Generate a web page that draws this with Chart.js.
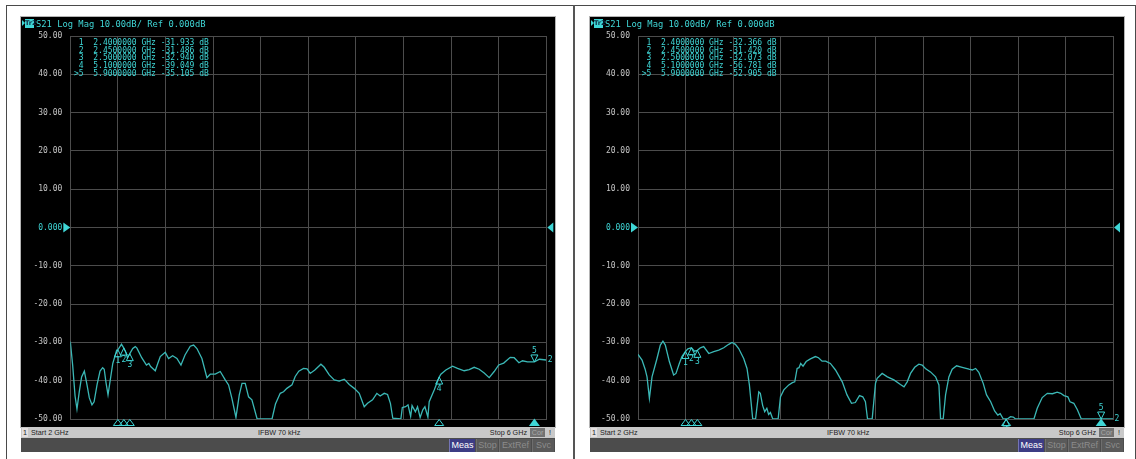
<!DOCTYPE html>
<html><head><meta charset="utf-8">
<script src="https://cdn.jsdelivr.net/npm/chart.js@4.4.1/dist/chart.umd.min.js"></script>
<style>
html,body{margin:0;padding:0;background:#fff;}
body{width:1136px;height:459px;position:relative;overflow:hidden;font-family:"Liberation Sans",sans-serif;}
.fl{position:absolute;background:#4a4a4a;}
.panel{position:absolute;top:17px;width:534px;height:435px;}
.screen{position:absolute;left:0;top:0;width:534px;height:410px;background:#000;box-shadow:0 0 0 1px #b4b4b4;}
.screen canvas{position:absolute;left:0;top:0;}
.arrow{position:absolute;left:0.5px;top:3px;width:0;height:0;border-left:3px solid #3fd6d6;border-top:3.5px solid transparent;border-bottom:3.5px solid transparent;}
.trbox{position:absolute;left:4px;top:2px;width:9px;height:8.5px;background:#3fd6d6;color:#0c2c44;font:bold 6.5px "DejaVu Sans",sans-serif;line-height:8.5px;text-align:center;}
.hdr{position:absolute;left:15px;top:1.5px;font:8.8px "DejaVu Sans Mono",monospace;line-height:10px;color:#3fd6d6;white-space:pre;}
.mtab{position:absolute;top:22px;font:8px "DejaVu Sans Mono",monospace;line-height:7.7px;color:#3fd6d6;white-space:pre;}
.status{position:absolute;left:0;top:410px;width:534px;height:11px;background:#c9c9c9;font-size:7.2px;line-height:11px;color:#222;}
.status span{position:absolute;top:0;white-space:pre;}
.numbox{position:absolute;left:1px;top:1px;width:6px;height:9px;line-height:9px;text-align:center;background:#e4e0e0;}
.cor{position:absolute;left:509px;top:1px;width:15px;height:9px;line-height:9px;text-align:center;background:#727272;color:#a8a8a8;}
.soft{position:absolute;left:0;top:421px;width:534px;height:14px;background:#4c4c4c;}
.btn{position:absolute;top:0.5px;height:13px;line-height:13px;font-size:9px;text-align:center;background:#5a5a5a;color:#8c8c8c;border-left:1px solid #6e6e6e;box-sizing:border-box;}
.btn.on{background:#3c3c84;color:#fff;border-left:1px solid #7474b4;}
</style>
</head>
<body>
<div class="fl" style="left:6px;top:5px;width:1130px;height:1px;"></div>
<div class="fl" style="left:6px;top:5px;width:1px;height:454px;"></div>
<div class="fl" style="left:573px;top:5px;width:2px;height:454px;background:#555;"></div>
<div class="fl" style="left:1135px;top:5px;width:1px;height:454px;"></div>

<div class="panel" id="pL" style="left:21px;"></div>
<div class="panel" id="pR" style="left:590px;"></div>

<script>
// ---------------- data ----------------
const markerFreq = [2.4, 2.45, 2.5, 5.1, 5.9];
const leftMarkerDb = [-31.933, -31.486, -32.940, -39.049, -35.105];
const rightMarkerDb = [-32.366, -31.420, -32.073, -56.781, -52.905];
const activeMarker = 4;

const leftFreq = [2.000,2.020,2.040,2.056,2.075,2.095,2.118,2.140,2.160,2.182,2.200,2.225,2.250,2.272,2.285,2.300,2.317,2.335,2.357,2.390,2.400,2.430,2.450,2.465,2.480,2.500,2.525,2.546,2.560,2.600,2.640,2.660,2.675,2.714,2.735,2.756,2.798,2.826,2.860,2.896,2.930,2.964,3.008,3.036,3.064,3.106,3.148,3.176,3.218,3.260,3.302,3.330,3.358,3.392,3.420,3.443,3.470,3.498,3.526,3.570,3.695,3.724,3.764,3.792,3.820,3.863,3.890,3.920,3.960,3.990,4.016,4.055,4.106,4.134,4.176,4.218,4.260,4.302,4.344,4.386,4.428,4.470,4.498,4.540,4.576,4.604,4.638,4.666,4.690,4.710,4.778,4.790,4.818,4.838,4.860,4.872,4.900,4.918,4.940,4.962,4.980,5.005,5.016,5.058,5.100,5.114,5.156,5.212,5.254,5.310,5.352,5.394,5.436,5.478,5.520,5.562,5.600,5.642,5.697,5.730,5.770,5.800,5.842,5.900,5.942,6.000];
const leftDb = [-29.8,-36.0,-44.0,-47.4,-43.0,-39.0,-37.5,-41.0,-44.5,-46.3,-45.5,-41.0,-37.5,-36.6,-37.0,-40.5,-43.7,-40.0,-35.5,-32.0,-31.93,-30.5,-31.49,-32.5,-34.0,-32.94,-31.6,-31.1,-31.5,-34.0,-35.9,-35.5,-36.3,-37.4,-35.5,-33.7,-32.6,-34.2,-33.5,-34.2,-35.9,-33.3,-31.0,-30.7,-31.6,-34.2,-39.2,-38.3,-38.3,-37.6,-39.8,-41.1,-44.6,-49.6,-43.7,-40.7,-40.7,-44.2,-45.0,-50.0,-50.0,-46.1,-43.3,-42.9,-42.0,-41.1,-38.9,-37.5,-36.8,-36.9,-38.1,-37.2,-35.7,-36.5,-38.5,-39.8,-40.1,-39.6,-41.0,-42.0,-43.3,-46.8,-45.9,-45.0,-43.3,-44.0,-43.3,-43.6,-45.9,-49.8,-50.0,-47.0,-46.8,-46.3,-49.3,-46.5,-48.1,-46.8,-49.6,-47.6,-46.8,-49.5,-45.5,-42.4,-39.05,-38.3,-37.2,-36.2,-36.8,-37.4,-37.1,-36.5,-37.0,-38.0,-39.2,-37.6,-35.9,-35.4,-33.9,-34.0,-35.3,-34.8,-35.1,-35.1,-34.4,-34.6];

const rightFreq = [2.000,2.034,2.060,2.076,2.096,2.118,2.140,2.160,2.188,2.210,2.230,2.264,2.300,2.320,2.348,2.370,2.400,2.420,2.450,2.475,2.500,2.525,2.553,2.596,2.638,2.680,2.722,2.764,2.792,2.820,2.848,2.890,2.918,2.938,2.966,2.990,3.017,3.030,3.050,3.067,3.085,3.100,3.115,3.135,3.180,3.200,3.228,3.270,3.300,3.320,3.340,3.356,3.370,3.390,3.416,3.452,3.494,3.520,3.550,3.580,3.620,3.663,3.720,3.760,3.798,3.830,3.865,3.893,3.915,3.933,3.972,4.000,4.014,4.056,4.100,4.155,4.210,4.240,4.267,4.295,4.330,4.365,4.393,4.420,4.463,4.506,4.534,4.548,4.570,4.590,4.618,4.646,4.683,4.730,4.787,4.815,4.843,4.870,4.907,4.935,4.970,5.003,5.030,5.050,5.076,5.110,5.137,5.160,5.180,5.334,5.362,5.404,5.447,5.490,5.530,5.560,5.587,5.620,5.638,5.670,5.700,5.733,6.000];
const rightDb = [-33.1,-34.6,-37.0,-39.0,-44.6,-39.0,-36.5,-34.2,-30.7,-29.7,-30.7,-35.0,-38.5,-38.1,-35.5,-33.7,-32.37,-31.7,-31.42,-32.3,-32.07,-31.4,-31.1,-32.9,-32.4,-32.0,-31.4,-30.5,-30.0,-30.5,-31.6,-34.2,-36.8,-41.1,-50.0,-50.0,-42.9,-43.3,-46.5,-48.1,-47.2,-48.8,-48.3,-50.0,-50.0,-44.2,-42.4,-41.1,-40.5,-40.3,-36.8,-36.6,-35.5,-36.2,-35.0,-34.3,-33.7,-34.0,-34.9,-34.9,-35.5,-37.2,-40.3,-43.7,-45.9,-45.7,-43.9,-44.2,-45.5,-50.0,-50.0,-40.7,-39.4,-38.1,-39.0,-39.8,-41.0,-41.6,-40.3,-38.1,-36.5,-35.7,-35.9,-36.8,-37.7,-39.0,-41.1,-50.0,-50.0,-43.7,-39.0,-37.0,-36.1,-36.5,-37.0,-37.2,-36.8,-37.8,-40.7,-43.7,-45.5,-47.9,-49.0,-48.6,-50.0,-50.0,-49.4,-49.5,-50.0,-50.0,-47.2,-44.4,-43.3,-43.4,-43.0,-43.3,-43.9,-44.2,-45.5,-45.9,-47.6,-50.0,-50.0];

const xGridGHz = [2.0,2.4,2.8,3.2,3.6,4.0,4.4,4.8,5.2,5.6,6.0];
const yMin = -50, yMax = 50, yStep = 10;
const headerText = 'S21 Log Mag 10.00dB/ Ref 0.000dB';

// ---------------- style ----------------
const CYAN = '#3fd6d6';
const TRACE = '#3bb8b6';
const GRID = '#4c4c4c';

function tri(ctx, x1,y1,x2,y2,x3,y3, fill){
  ctx.beginPath(); ctx.moveTo(x1,y1); ctx.lineTo(x2,y2); ctx.lineTo(x3,y3); ctx.closePath();
  if (fill) ctx.fill(); else ctx.stroke();
}

// pins the plot rectangle to the instrument's graticule position
const fixArea = {
  id: 'fixArea',
  afterLayout(chart, args, o){
    const ca = chart.chartArea;
    ca.left = o.l; ca.right = o.r; ca.top = o.t; ca.bottom = o.b;
    ca.width = o.r - o.l; ca.height = o.b - o.t;
    const x = chart.scales.x, y = chart.scales.y;
    y.left = 0; y.right = o.l; y.width = o.l; y.top = o.t; y.bottom = o.b; y.height = o.b - o.t;
    x.left = o.l; x.right = o.r; x.width = o.r - o.l; x.top = o.b; x.bottom = o.b; x.height = 0;
    y.configure(); x.configure();
  }
};

const vnaMarks = {
  id: 'vnaMarks',
  afterDatasetsDraw(chart, args, o){
    const ctx = chart.ctx, a = chart.chartArea, x = chart.scales.x, y = chart.scales.y;
    ctx.save();
    ctx.strokeStyle = CYAN; ctx.fillStyle = CYAN; ctx.lineWidth = 1;
    ctx.font = '8px "DejaVu Sans Mono"';
    ctx.textAlign = 'center';
    o.freq.forEach((f,i)=>{
      const v = Math.max(o.db[i], yMin);
      const px = x.getPixelForValue(f), py = y.getPixelForValue(v);
      const act = i === o.active;
      if (act){
        tri(ctx, px,py, px-3.5,py-7, px+3.5,py-7, false);
        ctx.textBaseline = 'bottom'; ctx.fillText(String(i+1), px, py-7.5);
      } else {
        tri(ctx, px,py, px-3.5,py+7, px+3.5,py+7, false);
        ctx.textBaseline = 'top'; ctx.fillText(String(i+1), px, py+7.5);
      }
      const b = a.bottom;
      if (act) tri(ctx, px,b-0.5, px-5.5,b+7, px+5.5,b+7, true);
      else tri(ctx, px,b+0.5, px-4.5,b+6.5, px+4.5,b+6.5, false);
    });
    const y0 = y.getPixelForValue(0);
    tri(ctx, a.left,y0, a.left-7,y0-5, a.left-7,y0+5, true);
    tri(ctx, a.right+1,y0, a.right+7,y0-5, a.right+7,y0+5, true);
    const d = chart.data.datasets[0].data;
    const last = d[d.length-1];
    ctx.textAlign = 'left'; ctx.textBaseline = 'middle';
    ctx.fillText('2', a.right+1.5, y.getPixelForValue(Math.max(last.y, yMin)));
    ctx.restore();
  }
};

function fmtLine(i, f, db){
  const pre = (i === activeMarker ? '>' : ' ') + String(i+1);
  return pre + '  ' + f.toFixed(7) + ' GHz ' + db.toFixed(3) + ' dB';
}

function buildPanel(id, freq, db, mkDb, plotLeft, plotWidth){
  const p = document.getElementById(id);
  const W = 534, H = 410;
  const plotTop = 19, plotBottom = 402;
  p.innerHTML =
    '<div class="screen"><canvas width="'+W+'" height="'+H+'"></canvas>' +
    '<div class="arrow"></div><div class="trbox">Tr2</div>' +
    '<div class="hdr"></div>' +
    '<div class="mtab" style="left:'+(plotLeft+3.7)+'px"></div></div>' +
    '<div class="status"><div class="numbox">1</div><span style="left:10px">Start 2 GHz</span>' +
    '<span style="left:237px">IFBW 70 kHz</span><span style="right:28px">Stop 6 GHz</span>' +
    '<div class="cor">Cor</div><span style="left:528px">!</span></div>' +
    '<div class="soft"><div class="btn on" style="left:428px;width:26px">Meas</div>' +
    '<div class="btn" style="left:455px;width:22px">Stop</div>' +
    '<div class="btn" style="left:478px;width:32px">ExtRef</div>' +
    '<div class="btn" style="left:511px;width:22px">Svc</div></div>';
  p.querySelector('.hdr').textContent = headerText;
  p.querySelector('.mtab').textContent = markerFreq.map((f,i)=>fmtLine(i,f,mkDb[i])).join('\n');

  const pts = freq.map((f,i)=>({x:f, y:db[i]}));
  const canvas = p.querySelector('canvas');
  new Chart(canvas, {
    type: 'line',
    data: { datasets: [{ data: pts, borderColor: TRACE, borderWidth: 1.3, pointRadius: 0, tension: 0, fill: false }] },
    options: {
      responsive: false, animation: false, events: [],
      layout: { padding: { top: plotTop, bottom: H - plotBottom - 4.8, left: 0, right: W - plotLeft - plotWidth } },
      plugins: { legend: { display: false }, tooltip: { enabled: false },
        fixArea: { l: plotLeft, r: plotLeft + plotWidth, t: plotTop, b: plotBottom },
        vnaMarks: { freq: markerFreq, db: mkDb, active: activeMarker } },
      scales: {
        x: { type: 'linear', min: 2, max: 6,
             afterBuildTicks: s => { s.ticks = xGridGHz.map(v=>({value:v})); },
             ticks: { display: false },
             grid: { color: GRID, drawTicks: false, lineWidth: 1 },
             border: { color: GRID } },
        y: { type: 'linear', min: yMin, max: yMax,
             ticks: { stepSize: yStep, padding: 8,
                      color: c => c.tick && c.tick.value === 0 ? CYAN : '#c4c4c4',
                      font: { family: 'DejaVu Sans Mono', size: 8 },
                      callback: v => v === 0 ? '0.000' : Number(v).toFixed(2) },
             grid: { color: GRID, drawTicks: false, lineWidth: 1 },
             border: { color: GRID },
             afterFit: s => { s.width = plotLeft; } }
      }
    },
    plugins: [fixArea, vnaMarks]
  });
}

buildPanel('pL', leftFreq, leftDb, leftMarkerDb, 49.3, 476);
buildPanel('pR', rightFreq, rightDb, rightMarkerDb, 48, 475);
</script>
</body></html>
